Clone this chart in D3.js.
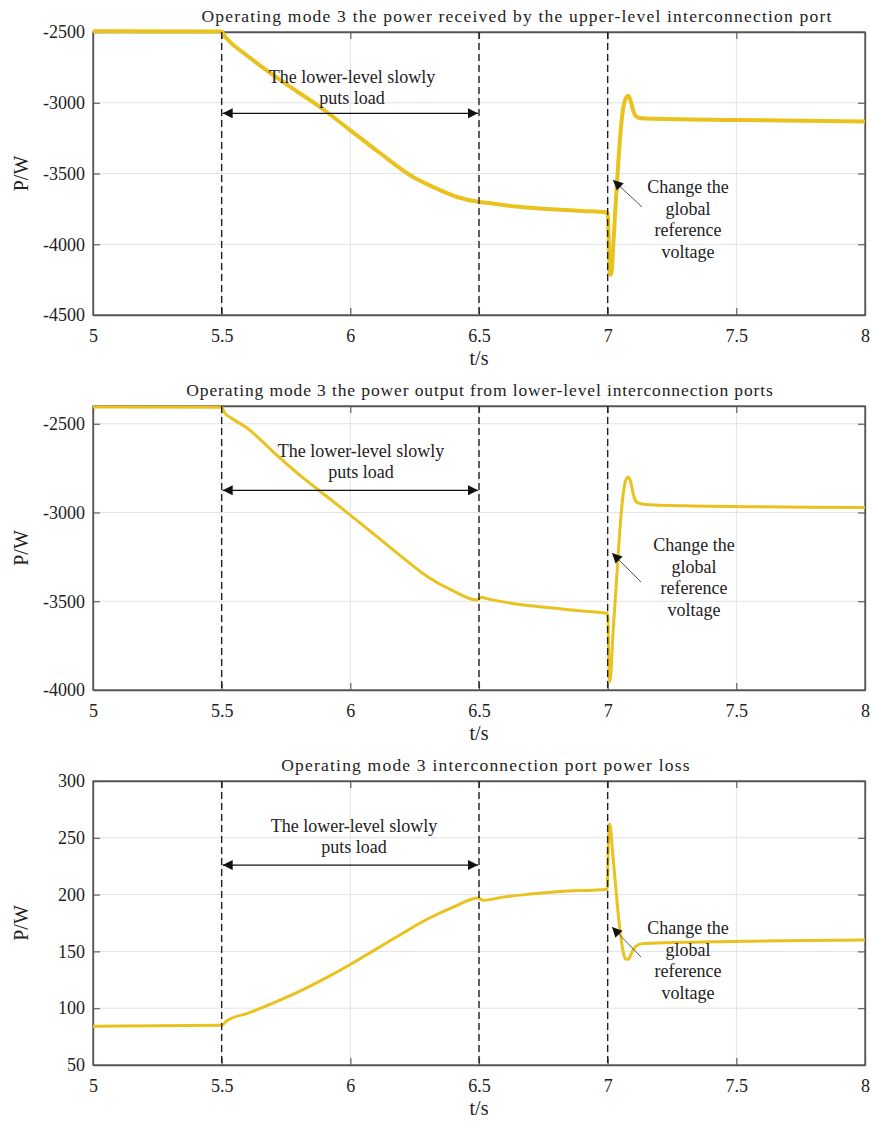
<!DOCTYPE html>
<html><head><meta charset="utf-8">
<script src="https://cdn.jsdelivr.net/npm/d3@7"></script>
<style>
body{margin:0;background:#fff;}
text{font-family:"Liberation Serif","Times New Roman",serif;fill:#222;}
</style></head>
<body><svg id="c" width="871" height="1122"></svg>
<script>
// ---------- data ----------
const xTicks = [5, 5.5, 6, 6.5, 7, 7.5, 8];
const xTickLabels = ["5", "5.5", "6", "6.5", "7", "7.5", "8"];

const titles = [
  "Operating mode 3 the power received by the upper-level interconnection port",
  "Operating mode 3 the power output from lower-level interconnection ports",
  "Operating mode 3 interconnection port power loss"
];

const yTicks1 = [-4500, -4000, -3500, -3000, -2500];
const yTicks2 = [-4000, -3500, -3000, -2500];
const yTicks3 = [50, 100, 150, 200, 250, 300];

const t1 = [5, 5.5, 5.51, 5.532, 5.583, 5.727, 5.882, 5.999, 6.115, 6.244, 6.321, 6.415, 6.496, 6.55, 6.6, 6.7, 6.8, 6.9, 6.998,
  7.001, 7.005, 7.010, 7.015, 7.022, 7.030, 7.040, 7.050, 7.060, 7.070, 7.080, 7.090, 7.100, 7.110, 7.125, 7.15, 7.5, 8];
const p1 = [-2495, -2497, -2525, -2570, -2645, -2839, -3030, -3193, -3355, -3525, -3595, -3666, -3700, -3712, -3725, -3742, -3755, -3765, -3775,
  -3800, -4050, -4215, -4200, -4000, -3750, -3460, -3210, -3040, -2970, -2950, -2990, -3060, -3095, -3108, -3112, -3122, -3132];

const t2 = [5, 5.5, 5.51, 5.54, 5.6, 5.7, 5.8, 5.9, 6.0, 6.1, 6.2, 6.3, 6.4, 6.491, 6.51, 6.53, 6.6, 6.7, 6.8, 6.9, 6.998,
  7.001, 7.004, 7.008, 7.013, 7.020, 7.030, 7.040, 7.050, 7.060, 7.070, 7.080, 7.090, 7.100, 7.115, 7.145, 7.3, 8];
const p2 = [-2405, -2407, -2435, -2470, -2525, -2658, -2785, -2900, -3015, -3132, -3250, -3362, -3442, -3493, -3478, -3485, -3505, -3525, -3540, -3555, -3568,
  -3600, -3800, -3955, -3900, -3700, -3480, -3260, -3050, -2900, -2820, -2800, -2830, -2900, -2945, -2955, -2962, -2972];

const t3 = [5, 5.5, 5.52, 5.6, 5.7, 5.8, 5.9, 6.0, 6.1, 6.2, 6.3, 6.4, 6.497, 6.516, 6.6, 6.7, 6.815, 6.998,
  7.002, 7.006, 7.010, 7.020, 7.030, 7.040, 7.050, 7.060, 7.070, 7.080, 7.090, 7.100, 7.120, 7.145, 7.3, 8];
const p3 = [84, 85, 89, 95.5, 104.5, 114.5, 126, 138.5, 152, 165.5, 178.5, 189, 196.9, 195, 198, 200.5, 202.7, 204.8,
  240, 262, 260, 235, 210, 185, 165, 150, 143, 143, 147, 152, 156, 157, 158, 160];

const dashT = [5.5, 6.5, 7];
const loadLabel = ["The lower-level slowly", "puts load"];
const changeLabel = ["Change the", "global", "reference", "voltage"];

// ---------- layout ----------
const svg = d3.select("#c");
const color = "#EAC21E";
const serif = '"Liberation Serif","Times New Roman",serif';
const defs = svg.append("defs");
defs.append("marker").attr("id", "ah").attr("viewBox", "0 0 10 10").attr("refX", 10).attr("refY", 5)
  .attr("markerWidth", 13).attr("markerHeight", 10).attr("markerUnits", "userSpaceOnUse")
  .attr("orient", "auto-start-reverse")
  .append("path").attr("d", "M0,0L10,5L0,10z").attr("fill", "#111");

const panels = [
  {top: 32, bottom: 315, dom: [-4500, -2500], ticks: yTicks1, t: t1, p: p1, lw: 4,
   titleX: 517, titleLS: 1.2,
   arrowV: -3075, loadX: 352, loadY: 83, chText: [688, 193], chFrom: [642, 207], chTo: [613, 180]},
  {top: 406, bottom: 690, dom: [-4000, -2400], ticks: yTicks2, t: t2, p: p2, lw: 3,
   titleX: 480, titleLS: 0.88,
   arrowV: -2875, loadX: 361, loadY: 456.5, chText: [694, 551], chFrom: [641, 582], chTo: [612, 553]},
  {top: 781, bottom: 1065, dom: [50, 300], ticks: yTicks3, t: t3, p: p3, lw: 3,
   titleX: 486, titleLS: 1.2,
   arrowV: 226, loadX: 354, loadY: 832, chText: [688, 934], chFrom: [641, 957], chTo: [612, 927]}
];

const L = 93, R = 865;
const x = d3.scaleLinear().domain([5, 8]).range([L, R]);

panels.forEach((pn, i) => {
  const y = d3.scaleLinear().domain(pn.dom).range([pn.bottom, pn.top]);
  const g = svg.append("g");
  // grid
  g.append("g").selectAll("line").data(xTicks.slice(1, -1)).join("line")
    .attr("x1", d => x(d)).attr("x2", d => x(d)).attr("y1", pn.top).attr("y2", pn.bottom)
    .attr("stroke", "#e3e3e3").attr("stroke-width", 1);
  g.append("g").selectAll("line").data(pn.ticks.filter(d => y(d) > pn.top + 1 && y(d) < pn.bottom - 1)).join("line")
    .attr("x1", L).attr("x2", R).attr("y1", d => y(d)).attr("y2", d => y(d))
    .attr("stroke", "#e3e3e3").attr("stroke-width", 1);

  // axes
  const ax = d3.axisBottom(x).tickValues(xTicks).tickFormat((d, k) => xTickLabels[k]).tickSizeInner(-7).tickSizeOuter(0).tickPadding(14);
  const axG = g.append("g").attr("transform", `translate(0,${pn.bottom})`).call(ax);
  const axT = g.append("g").attr("transform", `translate(0,${pn.top})`).call(d3.axisTop(x).tickValues(xTicks).tickFormat("").tickSizeInner(-7).tickSizeOuter(0));
  const ay = d3.axisLeft(y).tickValues(pn.ticks).tickFormat(d => String(d)).tickSizeInner(-7).tickSizeOuter(0).tickPadding(8);
  const ayG = g.append("g").attr("transform", `translate(${L},0)`).call(ay);
  const ayR = g.append("g").attr("transform", `translate(${R},0)`).call(d3.axisRight(y).tickValues(pn.ticks).tickFormat("").tickSizeInner(-7).tickSizeOuter(0));
  [axG, axT, ayG, ayR].forEach(a => {
    a.attr("font-family", null);
    a.select(".domain").attr("stroke", "#555").attr("stroke-width", 1.3);
    a.selectAll(".tick line").attr("stroke", "#555").attr("stroke-width", 1.1);
    a.selectAll("text").style("font-family", serif).style("font-size", "18px").style("fill", "#222");
  });
  g.append("rect").attr("x", L).attr("y", pn.top).attr("width", R - L).attr("height", pn.bottom - pn.top)
    .attr("fill", "none").attr("stroke", "#555").attr("stroke-width", 1.3);

  // curve
  const data = pn.t.map((tv, k) => [tv, pn.p[k]]);
  g.append("path").datum(data)
    .attr("d", d3.line().x(d => x(d[0])).y(d => y(d[1])).curve(d3.curveMonotoneX))
    .attr("fill", "none").attr("stroke", color).attr("stroke-width", pn.lw).attr("stroke-linejoin", "round");

  // dashed lines
  g.append("g").selectAll("line").data(dashT).join("line")
    .attr("x1", d => x(d)).attr("x2", d => x(d)).attr("y1", pn.top).attr("y2", pn.bottom)
    .attr("stroke", "#222").attr("stroke-width", 1.4).attr("stroke-dasharray", "7,4");

  // double arrow
  g.append("line").attr("x1", x(5.5) + 1).attr("x2", x(6.5) - 1).attr("y1", y(pn.arrowV)).attr("y2", y(pn.arrowV))
    .attr("stroke", "#111").attr("stroke-width", 1.3)
    .attr("marker-start", "url(#ah)").attr("marker-end", "url(#ah)");

  // load label
  loadLabel.forEach((s, k) => g.append("text").attr("x", pn.loadX).attr("y", pn.loadY + k * 21)
    .attr("text-anchor", "middle").style("font-size", "18px").text(s));

  // change arrow
  g.append("line").attr("x1", pn.chFrom[0]).attr("y1", pn.chFrom[1]).attr("x2", pn.chTo[0]).attr("y2", pn.chTo[1])
    .attr("stroke", "#555").attr("stroke-width", 1).attr("marker-end", "url(#ah)");
  changeLabel.forEach((s, k) => g.append("text").attr("x", pn.chText[0]).attr("y", pn.chText[1] + k * 21.7)
    .attr("text-anchor", "middle").style("font-size", "18px").text(s));

  // title
  g.append("text").attr("x", pn.titleX).attr("y", pn.top - 10).attr("text-anchor", "middle")
    .style("font-size", "17.5px").style("letter-spacing", pn.titleLS + "px").text(titles[i]);
  // axis labels
  g.append("text").attr("x", (L + R) / 2).attr("y", pn.bottom + 50).attr("text-anchor", "middle")
    .style("font-size", "20px").text("t/s");
  g.append("text").attr("transform", `translate(28,${(pn.top + pn.bottom) / 2}) rotate(-90)`)
    .attr("text-anchor", "middle").style("font-size", "20px").text("P/W");
});
</script></body></html>
